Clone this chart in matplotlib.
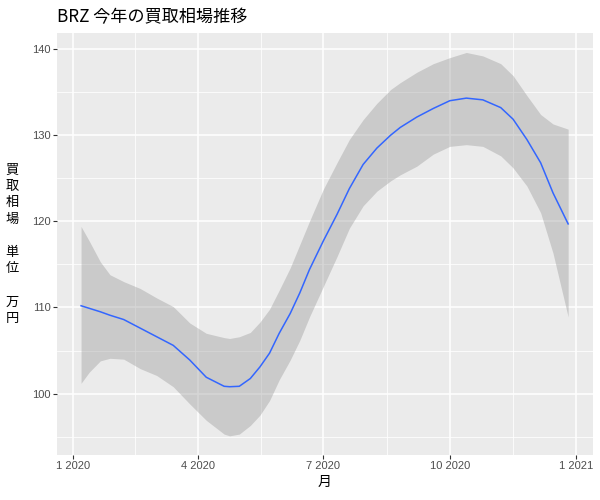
import matplotlib
matplotlib.use("Agg")
import matplotlib.pyplot as plt
import matplotlib.dates as mdates
import numpy as np
import pandas as pd

# ---- data ----
dates = ["2020-01-07", "2020-01-13", "2020-01-21", "2020-01-28", "2020-02-07",
         "2020-02-19", "2020-03-02", "2020-03-14", "2020-03-26", "2020-04-07",
         "2020-04-20", "2020-04-24", "2020-05-01", "2020-05-09", "2020-05-16",
         "2020-05-23", "2020-05-30", "2020-06-07", "2020-06-14", "2020-06-21",
         "2020-07-01", "2020-07-11", "2020-07-20", "2020-07-30", "2020-08-09",
         "2020-08-19", "2020-08-26", "2020-09-07", "2020-09-19", "2020-10-01",
         "2020-10-13", "2020-10-25", "2020-11-07", "2020-11-16", "2020-11-26",
         "2020-12-06", "2020-12-15", "2020-12-26"]
fit = [110.2, 109.9, 109.5, 109.1, 108.6, 107.6, 106.6, 105.6, 103.9, 101.9,
       100.85, 100.8, 100.85, 101.75, 103.1, 104.7, 107.0, 109.3, 111.7, 114.4,
       117.7, 120.8, 123.8, 126.6, 128.5, 130.0, 130.9, 132.1, 133.1, 134.0,
       134.3, 134.1, 133.2, 131.85, 129.5, 126.8, 123.3, 119.7]
upper = [119.4, 117.7, 115.3, 113.8, 113.0, 112.2, 111.1, 110.1, 108.2, 107.0,
         106.5, 106.4, 106.6, 107.1, 108.3, 109.8, 112.0, 114.6, 117.3, 120.0,
         123.7, 126.8, 129.5, 131.8, 133.7, 135.3, 136.1, 137.3, 138.3, 139.0,
         139.6, 139.2, 138.3, 136.9, 134.6, 132.4, 131.3, 130.7]
lower = [101.2, 102.5, 103.8, 104.1, 104.0, 102.9, 102.1, 100.8, 98.8, 96.9,
         95.3, 95.1, 95.3, 96.3, 97.5, 99.2, 101.6, 103.9, 106.2, 108.9,
         112.4, 115.9, 119.2, 121.8, 123.5, 124.7, 125.4, 126.4, 127.8, 128.7,
         128.9, 128.7, 127.6, 126.2, 124.1, 121.0, 116.3, 108.9]

x_ticks = ["2020-01-01", "2020-04-01", "2020-07-01", "2020-10-01", "2021-01-01"]
x_tick_labels = ["1 2020", "4 2020", "7 2020", "10 2020", "1 2021"]
y_ticks = [100, 110, 120, 130, 140]

title = "BRZ 今年の買取相場推移"
xlabel = "月"
ylabel = "買\n取\n相\n場\n\n単\n位\n\n万\n円"

CJK = ["Noto Sans CJK JP", "DejaVu Sans"]
NUM = ["Liberation Sans", "DejaVu Sans"]

x = pd.to_datetime(dates)

fig = plt.figure(figsize=(6, 5), dpi=100)
ax = fig.add_axes([0.0945, 0.09, 0.893, 0.8434])
ax.set_facecolor("#EBEBEB")
for s in ax.spines.values():
    s.set_visible(False)

ax.fill_between(x, lower, upper, color="#999999", alpha=0.4, linewidth=0, zorder=3)
ax.plot(x, fit, color="#3366FF", linewidth=1.1, zorder=4)
ax.margins(x=0.05, y=0.05)

# ticks
xt = mdates.date2num(pd.to_datetime(x_ticks))
ax.set_xticks(xt)
ax.set_xticklabels(x_tick_labels)
ax.set_xticks((xt[:-1] + xt[1:]) / 2, minor=True)
ax.set_yticks(y_ticks)
ax.set_yticks([95, 105, 115, 125, 135], minor=True)

ax.grid(True, which="major", color="white", linewidth=1.1, zorder=1)
ax.grid(True, which="minor", color="white", linewidth=0.55, zorder=1)
ax.set_axisbelow(True)

ax.tick_params(which="major", length=3, width=0.8, color="#333333",
               labelcolor="#4D4D4D", labelsize=8, pad=1.5)
ax.tick_params(which="minor", length=0)
for lab in ax.get_xticklabels() + ax.get_yticklabels():
    lab.set_family(NUM)

ax.set_xlabel(xlabel, family=CJK, fontsize=10, color="black", labelpad=3)
ax.set_ylabel(ylabel, family=CJK, fontsize=9.5, color="black", rotation=0,
              va="center", ha="center", linespacing=1.35, labelpad=14)

fig.text(57 / 600, 1 - 17 / 500, title, family=CJK, fontsize=12.3,
         ha="left", va="center", color="black")

fig.savefig("out.png", dpi=100, facecolor="white")
